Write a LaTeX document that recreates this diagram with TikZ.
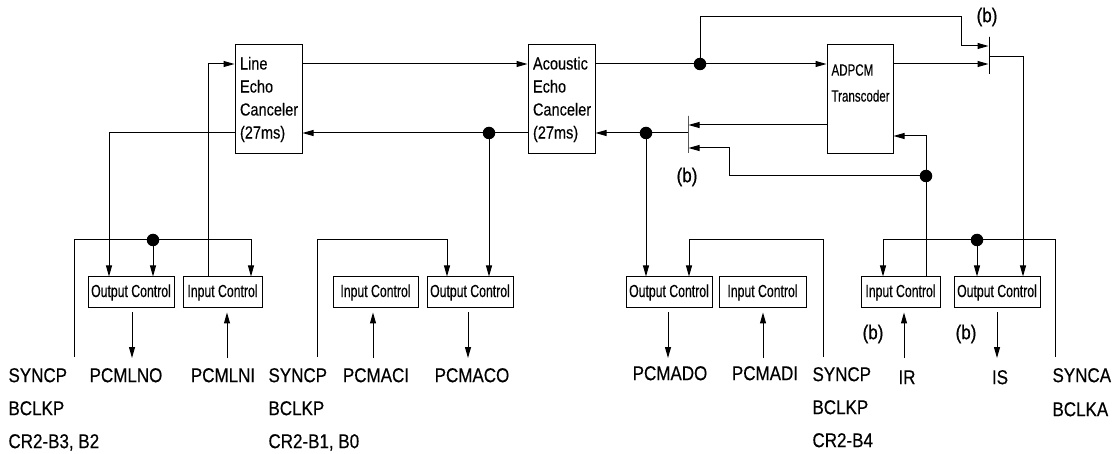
\documentclass[tikz,border=0pt]{standalone}
\usepackage{fontspec}
\setmainfont{Liberation Sans}[FakeStretch=0.85]
\newfontfamily\lblfont{Liberation Sans}[FakeStretch=0.85,FakeBold=0.4]
\newfontfamily\ctrlfont{Liberation Sans}[FakeStretch=0.70,FakeBold=0.3]
\newfontfamily\adfont{Liberation Sans}[FakeStretch=0.71,FakeBold=0.3]
\newfontfamily\ecfont{Liberation Sans}[FakeStretch=0.83,FakeBold=0.3]
\usetikzlibrary{arrows.meta,calc}
\begin{document}
\begin{tikzpicture}[x=1pt,y=-1pt, line width=1pt,
 arr/.style={-{Triangle[length=11pt,width=6pt]}},
 dot/.style={circle,fill,inner sep=0pt,minimum size=12.5pt},
 bigbox/.style={draw,rectangle,minimum height=109pt,inner sep=0pt},
 ctrl/.style={draw,rectangle,minimum height=31pt,inner sep=0pt,font=\ctrlfont\fontsize{17.5}{19}\selectfont},
 ectext/.style={text width=57pt,inner xsep=5pt,align=left,font=\ecfont\fontsize{17.5}{23}\selectfont},
 lbl/.style={font=\lblfont\fontsize{20}{22}\selectfont,inner sep=0pt,text height=14.3pt,text depth=0pt},
 blbl/.style={font=\lblfont\fontsize{20}{22}\selectfont,inner sep=0pt},
 swbar/.style={draw,rectangle,minimum width=0pt,minimum height=37pt,inner sep=0pt}
]
\useasboundingbox (0,0) rectangle (1119,454);

% big boxes
\node[bigbox,ectext] (lec) at (268.5,99.5) {Line\\Echo\\Canceler\\(27ms)};
\node[bigbox,ectext] (aec) at (561.5,99.5) {Acoustic\\Echo\\Canceler\\(27ms)};
\node[bigbox,minimum width=66pt] (adpcm) at (860,99.5) {};
\node[anchor=west,align=left,inner sep=0pt,font=\adfont\fontsize{16.3}{26}\selectfont] (adpcmtxt) at (831,83) {ADPCM\\Transcoder};

% switches
\node[swbar] (sw1) at (688,134.5) {};
\node[swbar] (sw2) at (989,55.5) {};

% control boxes
\node[ctrl,minimum width=86pt] (oc1) at (131,292.5) {Output Control};
\node[ctrl,minimum width=79pt] (ic1) at (222.5,292.5) {Input Control};
\node[ctrl,minimum width=85pt] (ic2) at (375.5,292.5) {Input Control};
\node[ctrl,minimum width=86pt] (oc2) at (470,292.5) {Output Control};
\node[ctrl,minimum width=86pt] (oc3) at (669,292.5) {Output Control};
\node[ctrl,minimum width=87pt] (ic4) at (762.5,292.5) {Input Control};
\node[ctrl,minimum width=79pt] (ic5) at (900.5,292.5) {Input Control};
\node[ctrl,minimum width=86pt] (oc5) at (997,292.5) {Output Control};

% dots
\node[dot] (d1) at (700,64) {};
\node[dot] (d2) at (489,133) {};
\node[dot] (d3) at (646,133) {};
\node[dot] (d4) at (926,176) {};
\node[dot] (d5) at (153,240) {};
\node[dot] (d6) at (977,240) {};

% level coordinates
\coordinate (yA) at (0,64);
\coordinate (yB) at (0,133);
\coordinate (ySw2a) at (0,46);
\coordinate (ySw2o) at (0,57);
\coordinate (ySw1a) at (0,125);
\coordinate (ySw1b) at (0,148);
\coordinate (yAd) at (0,136);
\coordinate (c1) at (961,17);
\coordinate (c2) at (729,176);
\coordinate (c3) at (109,133);
\coordinate (c4) at (208,64);
\coordinate (c5) at (251,240);
\coordinate (c6) at (447,240);
\coordinate (c7) at (689,240);
\coordinate (c8) at (883,240);
\coordinate (xS) at (1023,57);
\coordinate (s1) at (74,357);
\coordinate (s2) at (317,357);
\coordinate (s3) at (823,357);
\coordinate (s5) at (1055,357);

% main signal paths
\draw[arr] (lec.east |- yA) -- (aec.west |- yA);
\draw[arr] (aec.east |- yA) -- (adpcm.west |- yA);
\draw[arr] (d1.center) |- (c1) |- (sw2.west |- ySw2a);
\draw[arr] (adpcm.east |- yA) -- (sw2.west |- yA);
\draw[arr] (sw2.east |- ySw2o) -- (xS) -- (oc5.north -| xS);
\draw[arr] (adpcm.west |- ySw1a) -- (sw1.east |- ySw1a);
\draw[arr] (d4.center) -- (c2) |- (sw1.east |- ySw1b);
\draw[arr] (ic5.north -| d4) -- (d4 |- yAd) -- (adpcm.east |- yAd);
\draw[arr] (sw1.west |- yB) -- (aec.east |- yB);
\draw[arr] (d3.center) -- (oc3.north -| d3);
\draw[arr] (aec.west |- yB) -- (lec.east |- yB);
\draw[arr] (d2.center) -- (oc2.north -| d2);
\draw[arr] (lec.west |- yB) -- (c3) -- (oc1.north -| c3);
\draw[arr] (ic1.north -| c4) -- (c4) -- (lec.west |- yA);

% clock buses
\draw[arr] (s1) |- (c5) -- (ic1.north -| c5);
\draw[arr] (d5.center) -- (oc1.north -| d5);
\draw[arr] (s2) |- (c6) -- (oc2.north -| c6);
\draw[arr] (s3) |- (c7) -- (oc3.north -| c7);
\draw[arr] (s5) |- (c8) -- (ic5.north -| c8);
\draw[arr] (d6.center) -- (oc5.north -| d6);

% pins
\coordinate (p1) at (132,358);
\coordinate (p2) at (227,358);
\coordinate (p3) at (373,358);
\coordinate (p4) at (468,358);
\coordinate (p5) at (668,358);
\coordinate (p6) at (763,358);
\coordinate (p7) at (904,358);
\coordinate (p8) at (997,358);
\draw[arr,shorten <=4pt] (oc1.south -| p1) -- (p1);
\draw[arr,shorten >=4pt] (p2) -- (ic1.south -| p2);
\draw[arr,shorten >=4pt] (p3) -- (ic2.south -| p3);
\draw[arr,shorten <=4pt] (oc2.south -| p4) -- (p4);
\draw[arr,shorten <=4pt] (oc3.south -| p5) -- (p5);
\draw[arr,shorten >=4pt] (p6) -- (ic4.south -| p6);
\draw[arr,shorten >=4pt] (p7) -- (ic5.south -| p7);
\draw[arr,shorten <=4pt] (oc5.south -| p8) -- (p8);

% labels
\node[lbl,anchor=west] (l1a) at (8,375) {SYNCP};
\node[lbl,anchor=west] (l1b) at (8,408) {BCLKP};
\node[lbl,anchor=west] (l1c) at (8,441) {CR2-B3, B2};
\node[lbl,anchor=west] (l2a) at (268,375) {SYNCP};
\node[lbl,anchor=west] (l2b) at (268,408) {BCLKP};
\node[lbl,anchor=west] (l2c) at (268,441) {CR2-B1, B0};
\node[lbl,anchor=west] (l3a) at (812,374) {SYNCP};
\node[lbl,anchor=west] (l3b) at (812,407) {BCLKP};
\node[lbl,anchor=west] (l3c) at (812,440) {CR2-B4};
\node[lbl,anchor=west] (l4a) at (1052,375) {SYNCA};
\node[lbl,anchor=west] (l4b) at (1052,409) {BCLKA};
\node[lbl] (pcmlno) at (126,375) {PCMLNO};
\node[lbl] (pcmlni) at (223,375) {PCMLNI};
\node[lbl] (pcmaci) at (376,375) {PCMACI};
\node[lbl] (pcmaco) at (472,375) {PCMACO};
\node[lbl] (pcmado) at (670,373) {PCMADO};
\node[lbl] (pcmadi) at (765,373) {PCMADI};
\node[lbl] (ir) at (907,377) {IR};
\node[lbl] (is) at (1000,377) {IS};
\node[blbl] (b1) at (987,17) {(b)};
\node[blbl] (b2) at (687,177) {(b)};
\node[blbl] (b3) at (873,334) {(b)};
\node[blbl] (b4) at (966,334) {(b)};
\end{tikzpicture}
\end{document}
